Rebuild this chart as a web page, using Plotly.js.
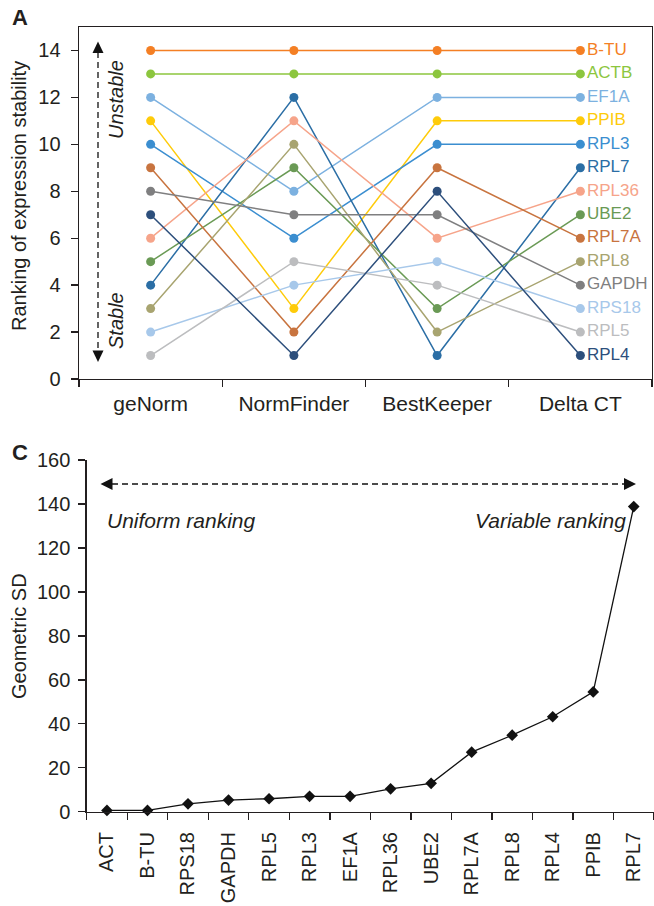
<!DOCTYPE html>
<html>
<head>
<meta charset="utf-8">
<script src="https://cdn.plot.ly/plotly-3.0.1.min.js"></script>
<style>html,body{margin:0;padding:0;background:#fff;}#chart{width:654px;height:906px;}</style>
</head>
<body>
<div id="chart"></div>
<script>
// ---------- Panel A data ----------
const methods = ['geNorm', 'NormFinder', 'BestKeeper', 'Delta CT'];
const genesA = ['B-TU', 'ACTB', 'EF1A', 'PPIB', 'RPL3', 'RPL7', 'RPL36', 'UBE2', 'RPL7A', 'RPL8', 'GAPDH', 'RPS18', 'RPL5', 'RPL4'];
const rank_BTU   = [14, 14, 14, 14];
const rank_ACTB  = [13, 13, 13, 13];
const rank_EF1A  = [12, 8, 12, 12];
const rank_PPIB  = [11, 3, 11, 11];
const rank_RPL3  = [10, 6, 10, 10];
const rank_RPL7  = [4, 12, 1, 9];
const rank_RPL36 = [6, 11, 6, 8];
const rank_UBE2  = [5, 9, 3, 7];
const rank_RPL7A = [9, 2, 9, 6];
const rank_RPL8  = [3, 10, 2, 5];
const rank_GAPDH = [8, 7, 7, 4];
const rank_RPS18 = [2, 4, 5, 3];
const rank_RPL5  = [1, 5, 4, 2];
const rank_RPL4  = [7, 1, 8, 1];
const ranksA = [rank_BTU, rank_ACTB, rank_EF1A, rank_PPIB, rank_RPL3, rank_RPL7, rank_RPL36,
                rank_UBE2, rank_RPL7A, rank_RPL8, rank_GAPDH, rank_RPS18, rank_RPL5, rank_RPL4];
const colorsA = ['#f47f24', '#8cc63e', '#7cb1e0', '#fecb0a', '#3b8ed0', '#2b6ea5', '#f6a48a',
                 '#6a9a55', '#c8743f', '#a8a470', '#7f7f80', '#a7c8ea', '#bcbdbf', '#2d4f7c'];
const yTicksA = [0, 2, 4, 6, 8, 10, 12, 14];

// ---------- Panel C data ----------
const sdGenes  = ['ACT', 'B-TU', 'RPS18', 'GAPDH', 'RPL5', 'RPL3', 'EF1A', 'RPL36', 'UBE2', 'RPL7A', 'RPL8', 'RPL4', 'PPIB', 'RPL7'];
const sdValues = [0.6, 0.6, 3.6, 5.3, 5.9, 7.0, 7.0, 10.4, 12.9, 27.1, 34.8, 43.2, 54.5, 138.8];
const yTicksC  = [0, 20, 40, 60, 80, 100, 120, 140, 160];

const W = 654, H = 906;
const px = x => x / W;
const py = y => 1 - y / H;
const FONT = 'Liberation Sans, Arial, Helvetica, sans-serif';
const TXT = '#231f20';

const traces = [];
genesA.forEach((g, i) => {
  traces.push({
    type: 'scatter', mode: 'lines+markers+text',
    x: methods, y: ranksA[i], xaxis: 'x', yaxis: 'y',
    line: {color: colorsA[i], width: 1.5},
    marker: {color: colorsA[i], size: 9},
    text: ranksA[i].map((v, j) => j === methods.length - 1 ? g : ''),
    textposition: 'middle right',
    textfont: {family: FONT, size: 17, color: colorsA[i]},
    cliponaxis: false, hoverinfo: 'skip', showlegend: false
  });
});
traces.push({
  type: 'scatter', mode: 'lines+markers',
  x: sdGenes, y: sdValues, xaxis: 'x2', yaxis: 'y2',
  line: {color: '#111', width: 1.3},
  marker: {color: '#111', size: 9, symbol: 'diamond'},
  cliponaxis: false, showlegend: false
});

const axisCommon = {
  showgrid: false, zeroline: false, showline: true, linecolor: '#231f20', linewidth: 1.4,
  ticks: 'outside', ticklen: 7, tickwidth: 1.4, tickcolor: '#231f20',
  tickfont: {family: FONT, size: 20, color: TXT}, automargin: false, fixedrange: true
};

const layout = {
  width: W, height: H,
  margin: {l: 0, r: 0, t: 0, b: 0},
  paper_bgcolor: '#fff', plot_bgcolor: '#fff',
  font: {family: FONT, color: TXT},
  showlegend: false,
  xaxis: Object.assign({}, axisCommon, {
    domain: [px(79), px(652)], anchor: 'y', type: 'category',
    categoryorder: 'array', categoryarray: methods,
    range: [-0.5, 3.5], tickson: 'boundaries', mirror: true, ticklabelstandoff: 5,
    tickfont: {family: FONT, size: 21, color: TXT}
  }),
  yaxis: Object.assign({}, axisCommon, {
    domain: [py(379), py(27)], anchor: 'x', range: [0, 15],
    tickvals: yTicksA, ticktext: yTicksA.map(String), mirror: true, ticklabelstandoff: 6
  }),
  xaxis2: Object.assign({}, axisCommon, {
    domain: [px(86.7), 1], anchor: 'y2', type: 'category',
    categoryorder: 'array', categoryarray: sdGenes,
    range: [-0.5, 13.5], tickson: 'boundaries', tickangle: -90, ticklabelstandoff: 11
  }),
  yaxis2: Object.assign({}, axisCommon, {
    domain: [py(811.7), py(460)], anchor: 'x2', range: [0, 160],
    tickvals: yTicksC, ticktext: yTicksC.map(String), ticklabelstandoff: 4
  }),
  shapes: [
    // Panel A vertical dashed arrow
    {type: 'line', xref: 'paper', yref: 'paper', x0: px(98), x1: px(98), y0: py(52), y1: py(351),
     line: {color: '#111', width: 1.3, dash: '6px,4px'}},
    {type: 'path', xref: 'paper', yref: 'paper', xsizemode: 'pixel', ysizemode: 'pixel',
     xanchor: px(98), yanchor: py(41.5), path: 'M0,0 L-5.5,-11.5 L5.5,-11.5 Z',
     fillcolor: '#111', line: {width: 0}},
    {type: 'path', xref: 'paper', yref: 'paper', xsizemode: 'pixel', ysizemode: 'pixel',
     xanchor: px(98), yanchor: py(362), path: 'M0,0 L-5.5,11.5 L5.5,11.5 Z',
     fillcolor: '#111', line: {width: 0}},
    // Panel C horizontal dashed arrow
    {type: 'line', xref: 'paper', yref: 'paper', x0: px(112), x1: px(624), y0: py(484), y1: py(484),
     line: {color: '#111', width: 1.3, dash: '6px,4px'}},
    {type: 'path', xref: 'paper', yref: 'paper', xsizemode: 'pixel', ysizemode: 'pixel',
     xanchor: px(100.5), yanchor: py(484), path: 'M0,0 L12,6 L12,-6 Z',
     fillcolor: '#111', line: {width: 0}},
    {type: 'path', xref: 'paper', yref: 'paper', xsizemode: 'pixel', ysizemode: 'pixel',
     xanchor: px(636), yanchor: py(484), path: 'M0,0 L-12,6 L-12,-6 Z',
     fillcolor: '#111', line: {width: 0}}
  ],
  annotations: [
    {text: '<b>A</b>', xref: 'paper', yref: 'paper', x: px(20), y: py(18), showarrow: false,
     font: {family: FONT, size: 22, color: TXT}, xanchor: 'center', yanchor: 'middle'},
    {text: '<b>C</b>', xref: 'paper', yref: 'paper', x: px(20), y: py(452), showarrow: false,
     font: {family: FONT, size: 22, color: TXT}, xanchor: 'center', yanchor: 'middle'},
    {text: 'Ranking of expression stability', xref: 'paper', yref: 'paper', x: px(19), y: py(196),
     textangle: -90, showarrow: false, font: {family: FONT, size: 20, color: TXT},
     xanchor: 'center', yanchor: 'middle'},
    {text: 'Geometric SD', xref: 'paper', yref: 'paper', x: px(19), y: py(636),
     textangle: -90, showarrow: false, font: {family: FONT, size: 20, color: TXT},
     xanchor: 'center', yanchor: 'middle'},
    {text: '<i>Unstable</i>', xref: 'paper', yref: 'paper', x: px(116), y: py(100),
     textangle: -90, showarrow: false, font: {family: FONT, size: 20, color: TXT},
     xanchor: 'center', yanchor: 'middle'},
    {text: '<i>Stable</i>', xref: 'paper', yref: 'paper', x: px(116), y: py(321),
     textangle: -90, showarrow: false, font: {family: FONT, size: 20, color: TXT},
     xanchor: 'center', yanchor: 'middle'},
    {text: '<i>Uniform ranking</i>', xref: 'paper', yref: 'paper', x: px(105), y: py(520),
     showarrow: false, font: {family: FONT, size: 21, color: TXT},
     xanchor: 'left', yanchor: 'middle'},
    {text: '<i>Variable ranking</i>', xref: 'paper', yref: 'paper', x: px(628), y: py(520),
     showarrow: false, font: {family: FONT, size: 21, color: TXT},
     xanchor: 'right', yanchor: 'middle'}
  ]
};

Plotly.newPlot('chart', traces, layout, {displayModeBar: false, staticPlot: true});
</script>
</body>
</html>
